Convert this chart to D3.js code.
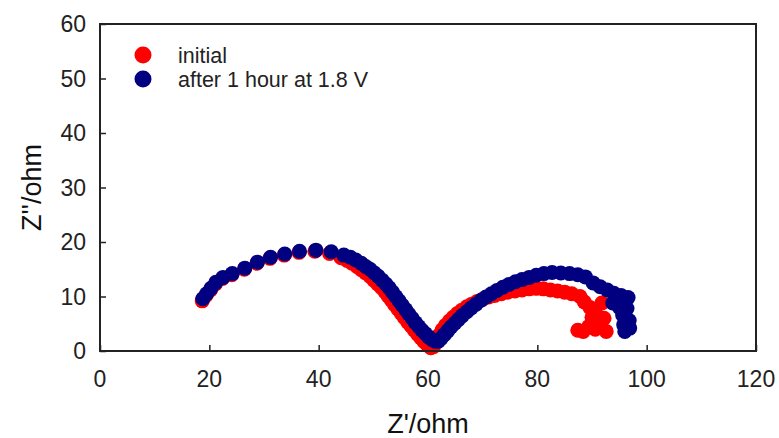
<!DOCTYPE html>
<html>
<head>
<meta charset="utf-8">
<script src="https://cdn.jsdelivr.net/npm/d3@7"></script>
<style>
  body { margin: 0; background: #fff; }
  svg { display: block; }
</style>
</head>
<body>
<svg id="chart" width="779" height="438"></svg>
<script>
// series: [Z', Z''] in ohm
var initialPts = [
  [18.7, 9.2], [19.4, 10.2], [20.2, 11.2], [21.1, 12.3], [22.4, 13.3], [24.1, 14.0],
  [26.4, 15.0], [28.7, 16.1], [31.1, 17.0], [33.7, 17.6], [36.4, 18.1], [39.3, 18.3],
  [42.0, 17.9], [44.1, 17.1], [45.2, 16.6], [46.1, 16.1], [47.0, 15.5], [47.8, 14.9],
  [48.6, 14.3], [49.4, 13.7], [50.1, 13.0], [50.8, 12.3], [51.5, 11.6], [52.1, 10.9],
  [52.7, 10.1], [53.3, 9.3], [53.9, 8.5], [54.5, 7.7], [55.1, 6.9], [55.7, 6.1],
  [56.3, 5.3], [56.9, 4.6], [57.5, 3.8], [58.1, 3.1], [58.7, 2.4], [59.3, 1.7],
  [59.9, 1.1], [60.5, 0.6], [61.0, 0.8], [61.5, 1.8], [62.0, 2.9], [62.6, 3.9],
  [63.2, 4.7], [63.9, 5.5], [64.6, 6.2], [65.4, 6.9], [66.2, 7.5], [67.1, 8.1],
  [68.0, 8.6], [69.0, 9.1], [70.0, 9.5], [71.1, 9.9], [72.2, 10.2], [73.4, 10.5],
  [74.6, 10.8], [75.9, 11.0], [77.2, 11.2], [78.5, 11.4], [79.8, 11.5], [81.1, 11.4],
  [82.4, 11.2], [83.7, 11.0], [85.0, 10.8], [86.3, 10.5], [87.8, 10.0], [88.6, 9.0],
  [89.6, 8.0], [90.6, 7.2], [91.8, 8.8], [92.2, 6.0], [91.4, 5.0], [90.6, 4.0],
  [92.6, 3.6], [89.4, 4.5], [88.4, 3.6], [87.4, 3.8], [90.0, 6.2]
];
var afterPts = [
  [18.8, 9.6], [19.5, 10.5], [20.3, 11.5], [21.2, 12.6], [22.5, 13.5], [24.2, 14.2],
  [26.5, 15.2], [28.8, 16.3], [31.2, 17.2], [33.8, 17.8], [36.5, 18.3], [39.5, 18.5],
  [42.3, 18.2], [44.6, 17.6], [45.8, 17.2], [46.8, 16.7], [47.8, 16.1], [48.6, 15.5],
  [49.4, 15.0], [50.2, 14.3], [50.9, 13.7], [51.6, 13.0], [52.3, 12.3], [52.9, 11.6],
  [53.5, 10.8], [54.1, 10.0], [54.7, 9.2], [55.3, 8.4], [55.9, 7.6], [56.5, 6.8],
  [57.1, 6.0], [57.7, 5.2], [58.3, 4.5], [58.9, 3.8], [59.5, 3.2], [60.1, 2.6],
  [60.7, 2.1], [61.3, 1.8], [61.9, 1.8], [62.4, 2.3], [63.0, 3.0], [63.6, 3.7],
  [64.2, 4.4], [64.9, 5.1], [65.6, 5.8], [66.3, 6.5], [67.1, 7.2], [67.9, 7.9],
  [68.8, 8.6], [69.7, 9.3], [70.6, 9.9], [71.6, 10.5], [72.6, 11.1], [73.7, 11.7],
  [74.8, 12.2], [76.0, 12.7], [77.2, 13.1], [78.5, 13.5], [79.8, 13.9], [81.2, 14.2],
  [82.7, 14.4], [84.3, 14.3], [85.9, 14.2], [87.4, 14.0], [88.8, 13.6], [90.2, 12.5],
  [91.5, 11.8], [92.8, 11.2], [94.0, 10.6], [95.3, 10.2], [96.6, 9.8], [93.8, 8.8],
  [95.0, 8.0], [96.4, 7.8], [95.6, 6.6], [96.8, 5.6], [95.8, 4.8], [96.9, 4.2],
  [96.0, 3.6]
];
var seriesNames = ['initial', 'after 1 hour at 1.8 V'];
var seriesColors = ['#ff0000', '#000080'];
var xTicks = [0, 20, 40, 60, 80, 100, 120];
var yTicks = [0, 10, 20, 30, 40, 50, 60];

var font = 'Liberation Sans, Arial, sans-serif';
var svg = d3.select('#chart');
var plot = { left: 100, right: 756, top: 24, bottom: 351 };

var x = d3.scaleLinear().domain([0, 120]).range([plot.left, plot.right]);
var y = d3.scaleLinear().domain([0, 60]).range([plot.bottom, plot.top]);

// axes with inward ticks
var xAxis = svg.append('g')
  .attr('transform', 'translate(0,' + plot.bottom + ')')
  .call(d3.axisTop(x).tickValues(xTicks).tickSize(6).tickFormat(''));
var yAxis = svg.append('g')
  .attr('transform', 'translate(' + plot.left + ',0)')
  .call(d3.axisRight(y).tickValues(yTicks).tickSize(6).tickFormat(''));
[xAxis, yAxis].forEach(function (g) {
  g.select('.domain').remove();
  g.selectAll('line').attr('stroke', '#222').attr('stroke-width', 1.5);
});

svg.append('g').selectAll('text')
  .data(xTicks).enter().append('text')
  .attr('x', function (d) { return x(d); })
  .attr('y', 387)
  .attr('text-anchor', 'middle')
  .attr('font-family', font).attr('font-size', 23).attr('fill', '#222')
  .text(function (d) { return d; });

svg.append('g').selectAll('text')
  .data(yTicks).enter().append('text')
  .attr('x', 86)
  .attr('y', function (d) { return y(d); })
  .attr('dy', '0.36em')
  .attr('text-anchor', 'end')
  .attr('font-family', font).attr('font-size', 23).attr('fill', '#222')
  .text(function (d) { return d; });

// data
[initialPts, afterPts].forEach(function (pts, i) {
  svg.append('g').selectAll('circle')
    .data(pts).enter().append('circle')
    .attr('cx', function (d) { return x(d[0]); })
    .attr('cy', function (d) { return y(d[1]); })
    .attr('r', 7.5)
    .attr('fill', seriesColors[i]);
});

// frame
svg.append('rect')
  .attr('x', plot.left).attr('y', plot.top)
  .attr('width', plot.right - plot.left).attr('height', plot.bottom - plot.top)
  .attr('fill', 'none').attr('stroke', '#222').attr('stroke-width', 2);

// legend
var legend = svg.append('g').selectAll('g')
  .data(seriesNames).enter().append('g')
  .attr('transform', function (d, i) { return 'translate(143,' + (55 + i * 24) + ')'; });
legend.append('circle')
  .attr('r', 8.5)
  .attr('fill', function (d, i) { return seriesColors[i]; });
legend.append('text')
  .attr('x', 35).attr('dy', '0.35em')
  .attr('font-family', font).attr('font-size', 21.5).attr('fill', '#222')
  .text(function (d) { return d; });

// axis titles
svg.append('text')
  .attr('x', (plot.left + plot.right) / 2).attr('y', 433)
  .attr('text-anchor', 'middle')
  .attr('font-family', font).attr('font-size', 27).attr('fill', '#111')
  .text("Z'/ohm");
svg.append('text')
  .attr('transform', 'translate(41,' + ((plot.top + plot.bottom) / 2) + ') rotate(-90)')
  .attr('text-anchor', 'middle')
  .attr('font-family', font).attr('font-size', 27).attr('fill', '#111')
  .text("Z''/ohm");
</script>
</body>
</html>
